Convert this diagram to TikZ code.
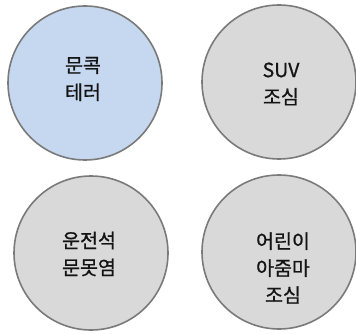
\documentclass[tikz,border=0pt]{standalone}
\usepackage{fontspec}
\newfontfamily\kr[FakeBold=0.9]{Noto Sans CJK KR}
\definecolor{blueFill}{HTML}{C6D7F0}
\definecolor{greyFill}{HTML}{D9D9D9}
\definecolor{rim}{HTML}{7A7A7A}
\definecolor{ink}{HTML}{141414}
\begin{document}
\begin{tikzpicture}[x=1pt,y=-1pt,
  disc/.style={draw=rim, line width=1.6pt, circle, minimum size=154pt, inner sep=0pt},
  lbl/.style={align=center, text=ink, font=\kr\fontsize{19.5}{27}\selectfont}]
\useasboundingbox (0,0) rectangle (356,334);
\node[disc, fill=blueFill] (c1) at (85,83) {};
\node[disc, fill=greyFill] (c2) at (279,82) {};
\node[disc, fill=greyFill] (c3) at (91,253) {};
\node[disc, fill=greyFill] (c4) at (279,252) {};
\node[lbl] (t1) at (83,79) {문콕\\테러};
\node[lbl] (t2) at (281,84) {SUV\\조심};
\node[lbl] (t3) at (89,254) {운전석\\문못염};
\node[lbl] (t4) at (283,268) {어린이\\아줌마\\조심};
\end{tikzpicture}
\end{document}
